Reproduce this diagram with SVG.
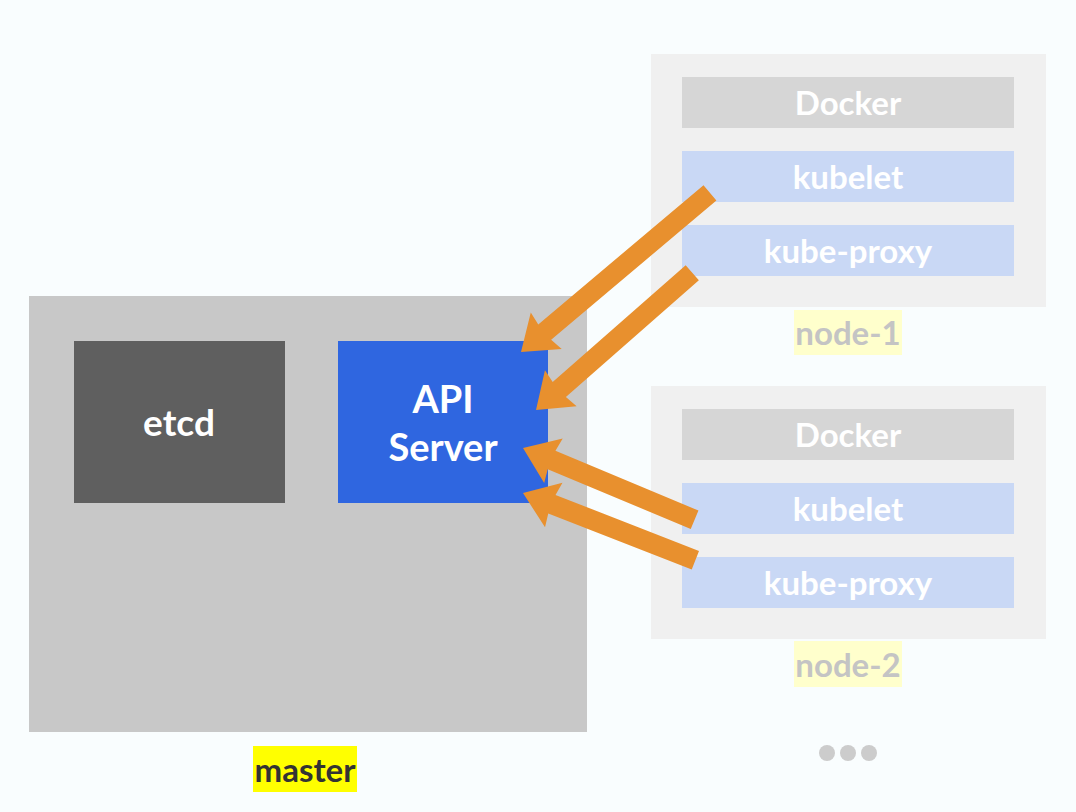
<svg xmlns="http://www.w3.org/2000/svg" width="1076" height="812" viewBox="0 0 1076 812">
<defs>
<style>
.t{font-family:Lato,"Open Sans","Liberation Sans",sans-serif;font-weight:bold;text-anchor:middle}
.w{fill:#ffffff}
.nodebox{fill:#f0f0f0}
.docker{fill:#d6d6d6}
.kube{fill:#c9d8f5}
.arrow{fill:#e8902e}
</style>
</defs>
<rect width="1076" height="812" fill="#f9fdfe"/>
<g id="master">
<rect x="29" y="296" width="558" height="436" fill="#c8c8c8"/>
<rect x="253" y="746" width="104" height="46" fill="#ffff00"/>
<text class="t" x="305" y="782" font-size="33" fill="#333333">master</text>
</g>
<g id="etcd">
<rect x="74" y="341" width="211" height="162" fill="#5f5f5f"/>
<text class="t w" x="179" y="436" font-size="37">etcd</text>
</g>
<g id="api-server">
<rect x="338" y="341" width="210" height="162" fill="#2f66e0"/>
<text class="t w" x="443" y="413" font-size="38">API</text>
<text class="t w" x="443" y="461" font-size="38">Server</text>
</g>
<g id="node-1">
<rect class="nodebox" x="651" y="54" width="395" height="253"/>
<rect class="docker" x="682" y="77" width="332" height="51"/>
<text class="t w" x="848" y="115" font-size="33">Docker</text>
<rect class="kube" x="682" y="151" width="332" height="51"/>
<text class="t w" x="848" y="189" font-size="33">kubelet</text>
<rect class="kube" x="682" y="225" width="332" height="51"/>
<text class="t w" x="848" y="263" font-size="33">kube-proxy</text>
<rect x="794" y="310" width="108" height="45" fill="#ffffcc"/>
<text class="t" x="848" y="345" font-size="33" fill="#c4c4c4">node-1</text>
</g>
<g id="node-2">
<rect class="nodebox" x="651" y="386" width="395" height="253"/>
<rect class="docker" x="682" y="409" width="332" height="51"/>
<text class="t w" x="848" y="447" font-size="33">Docker</text>
<rect class="kube" x="682" y="483" width="332" height="51"/>
<text class="t w" x="848" y="521" font-size="33">kubelet</text>
<rect class="kube" x="682" y="557" width="332" height="51"/>
<text class="t w" x="848" y="595" font-size="33">kube-proxy</text>
<rect x="794" y="641" width="108" height="46" fill="#ffffcc"/>
<text class="t" x="848" y="677" font-size="33" fill="#c4c4c4">node-2</text>
</g>
<g id="more" fill="#cccccc">
<circle cx="827" cy="753" r="8"/>
<circle cx="848" cy="753" r="8"/>
<circle cx="869" cy="753" r="8"/>
</g>
<g id="connectors" class="arrow">
<path transform="translate(521,352) rotate(-40.1)" d="M0,0 L33,-24 L31,-10 L247,-10 L247,10 L31,10 L33,24 Z"/>
<path transform="translate(536,410) rotate(-41.3)" d="M0,0 L33,-24 L31,-10 L208,-10 L208,10 L31,10 L33,24 Z"/>
<path transform="translate(523,448) rotate(22.7)" d="M0,0 L33,-24 L31,-10 L186,-10 L186,10 L31,10 L33,24 Z"/>
<path transform="translate(523,493) rotate(21.3)" d="M0,0 L33,-24 L31,-10 L185,-10 L185,10 L31,10 L33,24 Z"/>
</g>
</svg>
